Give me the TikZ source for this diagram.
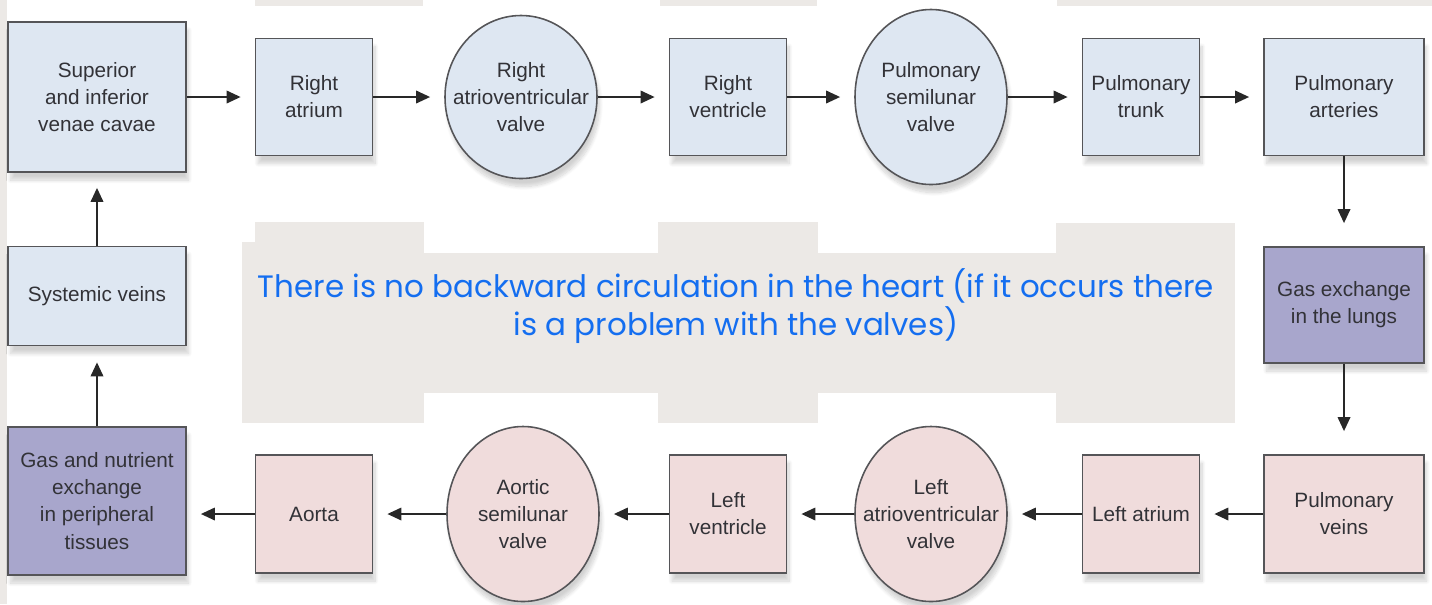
\documentclass[tikz,border=0pt]{standalone}
\usepackage{fontspec}
\setmainfont{Liberation Sans}
\newfontfamily\handfont{Poppins}
\usepackage{xcolor}
\usetikzlibrary{positioning, arrows.meta, calc, shapes.geometric, shadows.blur}

\definecolor{boxblue}{RGB}{222,231,242}
\definecolor{boxpink}{RGB}{240,220,220}
\definecolor{boxpurple}{RGB}{168,166,204}
\definecolor{edgegray}{RGB}{85,85,88}
\definecolor{arrgray}{RGB}{40,40,40}
\definecolor{txtgray}{RGB}{50,50,55}
\definecolor{panelgray}{RGB}{236,233,230}
\definecolor{handblue}{RGB}{20,110,240}

\begin{document}
\begin{tikzpicture}[
  every node/.style={font=\fontsize{11.8}{15.4}\selectfont, text=txtgray},
  arr/.style={-{Triangle[length=8pt, width=7pt]}, line width=1.4pt, draw=arrgray, shorten >=0.28cm},
  varr/.style={arr, shorten >=0.46cm},
  box/.style={draw=edgegray, line width=0.9pt, minimum width=2.34cm, minimum height=2.34cm,
              align=center, inner sep=2pt,
              blur shadow={shadow xshift=0.05cm, shadow yshift=-0.16cm, shadow opacity=18, shadow blur steps=10}},
  valve/.style={ellipse, draw=edgegray, line width=0.9pt, minimum width=3.04cm, minimum height=3.5cm,
                align=center, inner xsep=-0.35cm, inner ysep=0pt,
                blur shadow={shadow xshift=0.05cm, shadow yshift=-0.16cm, shadow opacity=18, shadow blur steps=10}},
  panel/.style={fill=panelgray, draw=none}
]
\useasboundingbox (0,0) rectangle (28.64,-12.08);

%% ---- Grey panels behind ----
\fill[panel] (0,0) rectangle (0.14,-12.08);
\fill[panel] (5.10,0) rectangle (8.46,-0.12);
\fill[panel] (13.20,0) rectangle (16.34,-0.12);
\fill[panel] (21.14,0) rectangle (28.64,-0.12);
\fill[panel] (5.10,-4.44) rectangle (8.48,-4.84);
\fill[panel] (4.84,-4.84) rectangle (8.48,-8.46);
\fill[panel] (13.16,-4.44) rectangle (16.36,-8.46);
\fill[panel] (21.12,-4.46) rectangle (24.70,-8.46);
\fill[panel] (4.84,-5.06) rectangle (24.70,-7.86);

%% 1. Top row (right heart)
\node[box, fill=boxblue, minimum width=3.56cm, minimum height=3.0cm] (cavae)
  at (1.94,-1.94) {Superior\\and inferior\\venae cavae};
\node[box, fill=boxblue] (ratrium) at (6.28,-1.94) {Right\\atrium};
\node[valve, fill=boxblue, minimum height=3.26cm] (ravalve) at (10.42,-1.94)
  {Right\\atrioventricular\\valve};
\node[box, fill=boxblue] (rventr) at (14.56,-1.94) {Right\\ventricle};
\node[valve, fill=boxblue] (psvalve) at (18.62,-1.94) {Pulmonary\\semilunar\\valve};
\node[box, fill=boxblue] (ptrunk) at (22.82,-1.94) {Pulmonary\\trunk};
\node[box, fill=boxblue, minimum width=3.2cm] (parter) at (26.88,-1.94) {Pulmonary\\arteries};

%% 2. Lungs
\node[box, fill=boxpurple, minimum width=3.2cm, minimum height=2.32cm] (lungs)
  at (26.88,-6.10) {Gas exchange\\in the lungs};

%% 3. Bottom row (left heart)
\node[box, fill=boxpink, minimum width=3.2cm, minimum height=2.36cm] (pveins)
  at (26.88,-10.28) {Pulmonary\\veins};
\node[box, fill=boxpink, minimum height=2.36cm] (latrium) at (22.82,-10.28) {Left atrium};
\node[valve, fill=boxpink] (lavalve) at (18.62,-10.28) {Left\\atrioventricular\\valve};
\node[box, fill=boxpink, minimum height=2.36cm] (lventr) at (14.56,-10.28) {Left\\ventricle};
\node[valve, fill=boxpink] (aovalve) at (10.46,-10.28) {Aortic\\semilunar\\valve};
\node[box, fill=boxpink, minimum height=2.36cm] (aorta) at (6.28,-10.28) {Aorta};

%% 4. Systemic side
\node[box, fill=boxpurple, minimum width=3.56cm, minimum height=2.96cm] (tissues)
  at (1.94,-10.02) {Gas and nutrient\\exchange\\in peripheral\\tissues};
\node[box, fill=boxblue, minimum width=3.56cm, minimum height=1.98cm] (sysveins)
  at (1.94,-5.92) {Systemic veins};

%% ---- Arrows ----
\draw[arr] (cavae) -- (ratrium);
\draw[arr] (ratrium) -- (ravalve);
\draw[arr] (ravalve) -- (rventr);
\draw[arr] (rventr) -- (psvalve);
\draw[arr] (psvalve) -- (ptrunk);
\draw[arr] (ptrunk) -- (parter);
\draw[varr] (parter) -- (lungs);
\draw[varr] (lungs) -- (pveins);
\draw[arr] (pveins) -- (latrium);
\draw[arr] (latrium) -- (lavalve);
\draw[arr] (lavalve) -- (lventr);
\draw[arr] (lventr) -- (aovalve);
\draw[arr] (aovalve) -- (aorta);
\draw[arr] (aorta.west) -- (aorta.west -| tissues.east);
\draw[arr, shorten >=0.32cm] (tissues) -- (sysveins);
\draw[arr, shorten >=0.3cm] (sysveins) -- (cavae);

%% ---- Handwritten note ----
\node[font=\handfont\fontsize{17.6}{21.5}\selectfont, text=handblue, align=center] (note)
  at (14.72,-6.12) {There is no backward circulation in the heart (if it occurs there\\
                    is a problem with the valves)};

\end{tikzpicture}
\end{document}
